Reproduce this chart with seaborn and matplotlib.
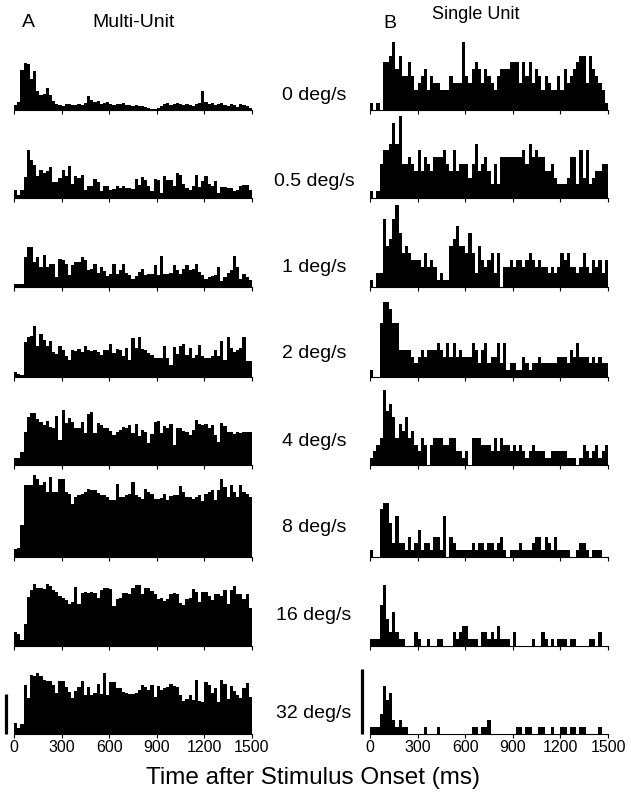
import numpy as np
import pandas as pd
import matplotlib
matplotlib.use("Agg")
import matplotlib.pyplot as plt
import seaborn as sns

# ---------------- data ----------------
speeds = ["0 deg/s", "0.5 deg/s", "1 deg/s", "2 deg/s", "4 deg/s", "8 deg/s", "16 deg/s", "32 deg/s"]
bin_edges = list(range(0, 1520, 20))          # 20 ms bins, 0..1500 ms
tick_values = [0, 300, 600, 900, 1200, 1500]
tick_labels = ["0", "300", "600", "900", "1200", "1500"]

# Multi-unit PSTHs (relative rate units)
mu_0 = [5,8,40,47,46,31,39,19,15,16,22,15,9,6,5,
        4,6,6,5,5,6,5,7,14,10,8,9,6,7,8,
        6,5,6,6,7,5,5,4,5,4,4,3,2,1,1,
        2,4,6,7,5,6,7,6,5,6,5,4,6,7,19,
        8,6,7,5,6,7,5,4,6,5,3,6,5,4,2]
mu_05 = [8,3,8,21,48,38,33,22,28,25,27,31,16,16,20,
         28,22,32,14,22,20,23,8,12,12,19,16,7,12,12,
         8,9,12,10,12,10,10,9,19,13,21,18,12,7,19,
         18,5,22,18,18,12,25,23,14,10,8,12,23,11,17,
         22,14,12,17,5,11,11,10,10,7,8,12,13,13,8]
mu_1 = [3,3,3,30,40,40,25,30,20,32,20,23,23,10,28,
        27,23,12,22,25,25,30,27,17,18,23,14,20,16,11,
        13,23,13,17,23,14,12,8,11,15,18,12,13,13,22,
        12,31,13,13,14,22,17,13,18,22,17,18,23,15,12,
        8,10,11,12,20,6,10,14,17,31,20,8,13,10,7]
mu_2 = [5,3,2,35,40,41,51,31,43,37,31,36,25,23,31,
        27,21,17,27,26,28,25,31,27,26,27,25,22,27,27,
        33,24,28,27,21,29,17,39,29,40,28,27,24,22,19,
        19,19,31,19,12,30,23,31,33,22,29,19,22,32,21,
        19,19,21,27,21,36,17,40,29,25,27,29,40,16,16]
mu_4 = [7,7,13,33,48,52,52,46,43,40,44,38,37,49,25,
        55,42,47,43,37,37,43,32,51,53,32,42,40,37,37,
        34,30,33,35,38,37,40,32,41,29,35,33,22,31,43,
        44,32,39,37,41,20,37,37,34,33,30,35,45,41,40,
        41,37,40,30,23,42,39,33,33,31,33,32,33,33,33]
mu_8 = [8,9,32,72,72,72,82,78,72,75,65,80,65,65,78,
        78,65,63,53,60,62,63,65,68,67,67,64,62,62,60,
        57,57,73,60,60,62,63,75,62,60,58,68,65,63,58,
        58,59,63,57,61,62,62,71,65,60,60,58,60,62,56,
        63,65,67,57,67,78,70,60,72,65,60,72,65,63,60]
mu_16 = [14,12,6,22,49,56,62,58,58,57,62,60,56,54,50,
         48,46,42,44,59,42,53,54,53,54,53,48,56,58,58,
         57,40,47,48,53,53,52,58,61,61,52,58,58,55,52,
         47,48,45,47,52,53,52,43,41,47,48,57,54,44,54,
         54,50,46,52,52,50,56,42,56,60,52,52,47,52,38]
mu_32 = [11,6,10,49,36,59,58,61,58,54,53,53,49,41,53,
         53,47,42,36,43,47,53,39,47,39,41,50,40,61,39,
         52,52,46,46,42,41,40,40,41,44,49,47,44,49,37,
         48,44,46,47,50,48,47,39,33,35,39,34,54,33,32,
         52,49,41,46,32,54,50,35,48,43,39,36,46,51,37]

# Single-unit PSTHs (spike counts per bin)
su_0 = [1,0,1,0,7,7,8,10,6,8,5,5,7,5,3,
        4,5,6,3,5,4,4,3,3,3,5,4,4,4,10,
        5,4,6,7,6,4,6,5,4,3,5,6,6,6,7,
        7,7,4,7,5,7,4,6,5,3,5,4,3,3,5,
        3,6,4,5,6,7,8,8,4,8,6,5,4,3,1]
su_05 = [1,0,1,5,7,7,8,11,8,12,5,5,6,5,4,
         7,4,6,5,4,6,6,6,7,5,4,7,4,5,5,
         5,3,5,8,4,5,6,4,2,5,2,6,6,6,6,
         6,6,6,7,5,8,6,7,6,6,4,4,5,3,2,
         2,2,3,6,6,2,7,3,7,2,3,4,4,5,5]
su_1 = [1,0,2,2,10,6,7,10,12,8,5,6,5,4,4,
        4,3,5,3,4,3,1,2,1,1,6,7,9,6,6,
        5,8,5,2,6,4,3,4,5,2,5,0,3,3,4,
        3,4,4,3,4,5,4,3,4,3,3,2,3,2,3,
        5,4,5,3,3,2,3,5,3,2,4,3,4,2,4]
su_2 = [1,0,0,8,11,11,10,8,8,4,4,4,4,3,2,
        3,4,3,4,4,4,5,4,3,5,3,5,3,4,3,
        3,3,5,4,2,4,5,2,3,3,5,2,5,1,2,
        2,1,1,3,2,1,2,2,3,2,2,2,2,2,3,
        3,3,2,4,3,5,3,3,3,2,3,2,3,2,2]
su_4 = [1,2,3,4,11,8,9,7,4,6,5,7,4,5,3,
        2,4,3,0,3,4,4,4,3,3,4,4,2,2,1,
        2,0,4,4,4,3,3,3,2,4,2,4,3,3,2,
        3,2,3,2,1,2,3,2,2,2,1,1,2,2,2,
        2,2,1,1,1,0,1,3,2,1,2,3,1,2,3]
su_8 = [1,0,0,7,8,8,5,2,6,2,2,1,3,1,2,
        4,1,2,2,1,3,3,1,6,0,3,2,1,1,1,
        1,1,2,1,2,2,1,2,2,1,2,3,1,0,1,
        1,1,2,1,1,1,2,3,3,1,3,2,1,3,1,
        1,1,1,0,0,1,2,2,1,0,1,1,1,0,0]
su_16 = [1,1,1,6,9,4,2,5,2,1,1,0,0,0,2,
         1,0,0,1,0,0,1,1,0,0,0,2,1,2,3,
         3,1,1,1,0,2,2,1,2,1,3,1,1,1,0,
         2,0,0,0,0,0,1,0,0,2,1,0,1,0,1,
         1,1,0,1,1,0,0,0,0,1,1,0,2,0,0]
su_32 = [1,1,1,3,7,5,6,2,1,2,1,1,0,0,0,
         0,0,1,0,0,0,1,0,0,0,0,0,0,0,0,
         0,0,1,1,0,1,1,2,0,0,0,0,0,0,0,
         0,1,1,0,1,1,0,0,1,1,0,0,1,0,0,
         1,1,0,1,1,0,1,1,0,0,0,0,1,0,0]

multi_unit = [mu_0, mu_05, mu_1, mu_2, mu_4, mu_8, mu_16, mu_32]
single_unit = [su_0, su_05, su_1, su_2, su_4, su_8, su_16, su_32]

mu_scale_bar = 40      # rate units
su_scale_bar = 9.5     # counts

# ---------------- styling / layout ----------------
sns.set_theme(style="ticks")
plt.rcParams["font.family"] = ["Liberation Sans", "DejaVu Sans"]
plt.rcParams["text.color"] = "black"
plt.rcParams["xtick.color"] = "black"
plt.rcParams["xtick.labelcolor"] = "black"
plt.rcParams["axes.edgecolor"] = "black"

W, H = 631, 796
fig = plt.figure(figsize=(W / 100, H / 100), dpi=100)

def fx(px):
    return px / W

def fy(py):
    return 1 - py / H

baselines = [110, 198, 287, 377, 465, 557, 646, 734]
ax_h = 85
col_x = {"L": (14, 238), "R": (370, 238)}
ylims = {"L": (0, 85), "R": (0, 85 / 6.8)}

centers = [(a + b) / 2 for a, b in zip(bin_edges[:-1], bin_edges[1:])]

def draw_panel(ax, values, ylim, last):
    df = pd.DataFrame({"t": centers, "w": values})
    sns.histplot(data=df, x="t", weights="w", bins=bin_edges, element="step",
                 fill=True, color="black", alpha=1, linewidth=0, ax=ax)
    ax.set_xlim(0, 1500)
    ax.set_ylim(*ylim)
    ax.set_ylabel("")
    ax.set_xlabel("")
    ax.set_yticks([])
    for s in ["left", "top", "right"]:
        ax.spines[s].set_visible(False)
    ax.spines["bottom"].set_linewidth(0.8)
    ax.spines["bottom"].set_color("black")
    ax.set_xticks(tick_values)
    ax.tick_params(axis="x", direction="out", length=3, width=0.8, color="black",
                   pad=1.5, labelsize=11.5, labelcolor="black")
    if last:
        ax.set_xticklabels(tick_labels)
    else:
        ax.set_xticklabels([])
    ax.patch.set_alpha(0)

for i in range(8):
    b = baselines[i]
    for col, data in (("L", multi_unit), ("R", single_unit)):
        x0, w = col_x[col]
        ax = fig.add_axes([fx(x0), fy(b), fx(w), ax_h / H])
        draw_panel(ax, data[i], ylims[col], i == 7)
        if i == 7:
            bar_h = mu_scale_bar if col == "L" else su_scale_bar
            ax.plot([-50, -50], [0, bar_h], color="black", lw=2.3,
                    solid_capstyle="butt", clip_on=False)

# speed labels
label_y = [95, 181, 268, 354, 441, 527, 616, 713]
for s, y in zip(speeds, label_y):
    fig.text(fx(314), fy(y), s, ha="center", va="center", fontsize=14, color="black")

# headers
fig.text(fx(22), fy(27), "A", ha="left", va="baseline", fontsize=14, color="black")
fig.text(fx(92), fy(27), "Multi-Unit", ha="left", va="baseline", fontsize=14, color="black")
fig.text(fx(383), fy(28), "B", ha="left", va="baseline", fontsize=14, color="black")
fig.text(fx(432), fy(19), "Single Unit", ha="left", va="baseline", fontsize=13, color="black")

# x-axis title
fig.text(fx(313), fy(784), "Time after Stimulus Onset (ms)", ha="center",
         va="baseline", fontsize=17.5, color="black")

fig.savefig("out.png", dpi=100, facecolor="white")
